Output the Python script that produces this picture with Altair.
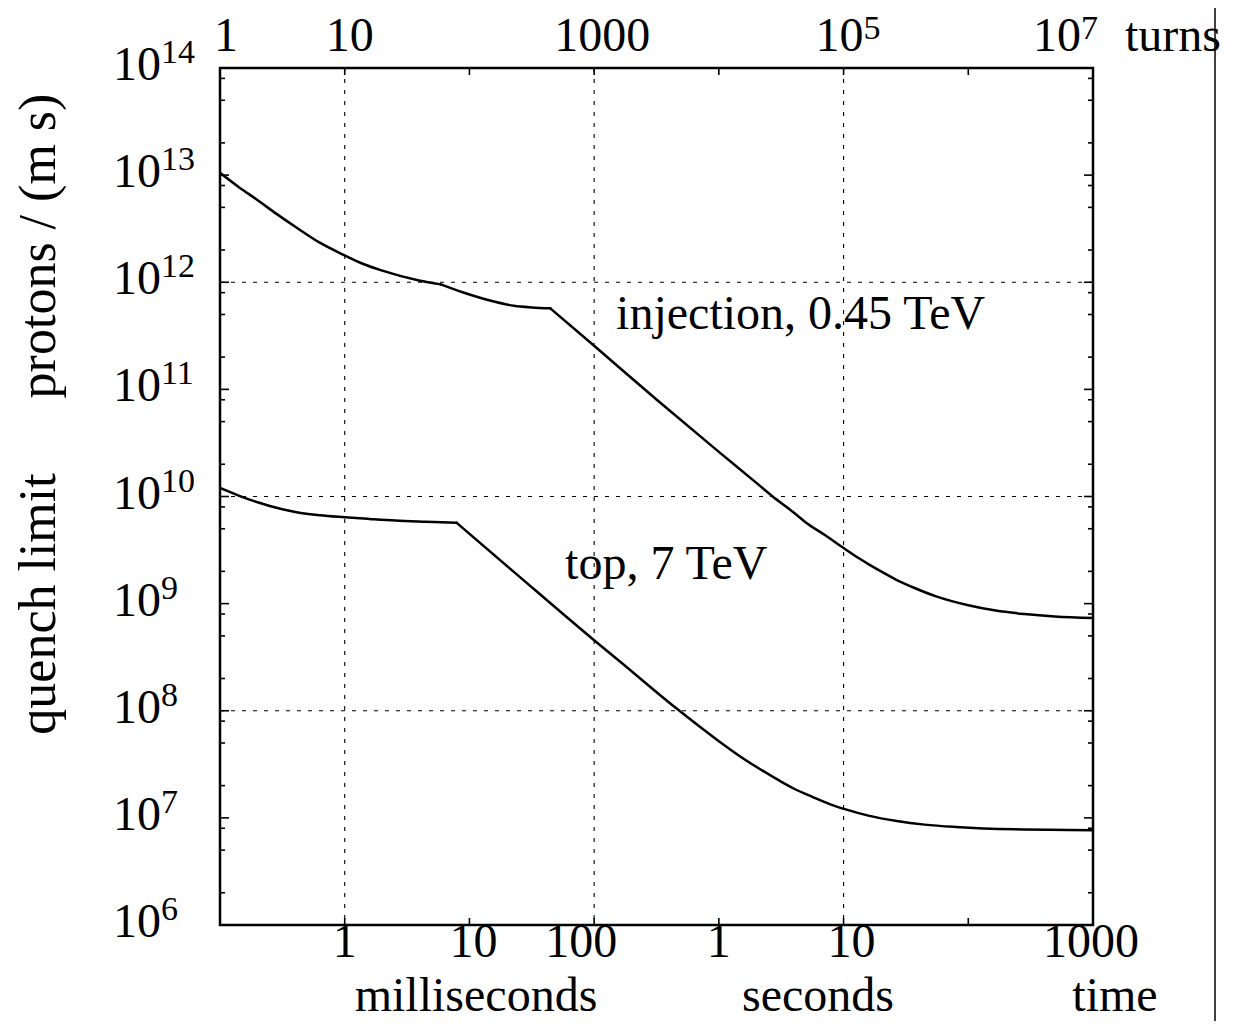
import altair as alt
import pandas as pd

FONT = "Liberation Serif"
W, H = 873, 857

# ---- data (time in milliseconds, protons / (m s)) ----
inj_t = [0.1, 0.141, 0.198, 0.282, 0.41, 0.631, 1.0, 1.41, 1.97, 3.94, 5.89, 8.81,
         15.7, 22.7, 31.6, 44.5, 100, 316, 1000, 2000, 2670, 3980, 5010, 7080, 10400,
         12600, 15800, 20000, 26700, 35500, 55200, 100000, 166000, 282000, 494000,
         1000000]
inj_q = [1.05e13, 7.76e12, 5.89e12, 4.37e12, 3.24e12, 2.34e12, 1.78e12, 1.48e12,
         1.29e12, 1.04e12, 9.55e11, 8.07e11, 6.61e11, 6.03e11, 5.82e11, 5.71e11,
         2.55e11, 8.04e10, 2.61e10, 1.34e10, 1.01e10, 7.09e9, 5.69e9, 4.37e9, 3.20e9,
         2.75e9, 2.34e9, 2.00e9, 1.66e9, 1.43e9, 1.17e9, 9.66e8, 8.61e8, 8.00e8,
         7.59e8, 7.33e8]
inj_kinks = [5.89, 44.5]

top_t = [0.1, 0.141, 0.2, 0.316, 0.41, 0.631, 1.0, 1.58, 2.55, 4.47, 7.9, 22.7,
         100, 161, 448, 1000, 1580, 2240, 2990, 3980, 5620, 7940, 10400, 15800,
         26700, 44700, 79800, 237000, 1000000]
top_q = [1.20e10, 1.02e10, 8.83e9, 7.59e9, 7.13e9, 6.68e9, 6.40e9, 6.17e9, 5.96e9,
         5.81e9, 5.68e9, 1.98e9, 4.55e8, 2.88e8, 1.07e8, 5.20e7, 3.56e7, 2.76e7,
         2.26e7, 1.88e7, 1.57e7, 1.33e7, 1.20e7, 1.05e7, 9.35e6, 8.65e6, 8.22e6,
         7.82e6, 7.68e6]
top_kinks = [7.9]

# axes
y_major = [1e6, 1e7, 1e8, 1e9, 1e10, 1e11, 1e12, 1e13, 1e14]
y_exp = ["6", "7", "8", "9", "10", "11", "12", "13", "14"]
y_minor = [m * 10.0 ** e for e in range(6, 14) for m in (2, 5, 8)]
y_grid = [1e8, 1e10, 1e12]

x_ticks = [0.1, 1, 10, 100, 1000, 1e4, 1e5, 1e6]
x_grid = [1, 100, 1e4]

bot_vals = [1, 10, 100, 1000, 1e4, 1e6]
bot_text = ["1", "10", "100", "1", "10", "1000"]
bot_dx = [0, 4, -13, 0, 8, -2]

top_vals = [0.1, 1, 100, 1e4, 1e6]
top_base = ["1", "10", "1000", "10", "10"]
top_exp = ["", "", "", "5", "7"]
top_dx = [-6, -19, -40, -28, -60]

labels = [("injection, 0.45 TeV", 150, 3.7e11), ("top, 7 TeV", 58.5, 1.71e9)]

xs = alt.Scale(type="log", domain=[0.1, 1e6], nice=False)
ys = alt.Scale(type="log", domain=[1e6, 1e14], nice=False)


def X():
    return alt.X("t:Q", scale=xs, axis=None)


def Y():
    return alt.Y("q:Q", scale=ys, axis=None)


def pieces(name, ts, qs, kinks):
    """split a curve at its kinks so each smooth piece is drawn on its own"""
    rows = []
    bounds = [ts[0]] + kinks + [ts[-1]]
    for k in range(len(bounds) - 1):
        lo, hi = bounds[k], bounds[k + 1]
        for t, q in zip(ts, qs):
            if lo <= t <= hi:
                rows.append({"t": t, "q": q, "s": f"{name}{k}"})
    return pd.DataFrame(rows)


layers = []

# grid lines
grid_style = dict(color="black", strokeWidth=1.1, strokeDash=[4, 7])
layers.append(alt.Chart(pd.DataFrame({"q": y_grid})).mark_rule(**grid_style).encode(y=Y()))
layers.append(alt.Chart(pd.DataFrame({"t": x_grid})).mark_rule(**grid_style).encode(x=X()))

# curves
df_c = pd.concat([
    pieces("injection", inj_t, inj_q, inj_kinks),
    pieces("top", top_t, top_q, top_kinks),
])
layers.append(
    alt.Chart(df_c).mark_line(color="black", strokeWidth=2.5, clip=True,
                              interpolate="monotone", strokeCap="round",
                              strokeJoin="round").encode(
        x=X(), y=Y(), detail="s:N", order="t:Q"
    )
)

# inward ticks
tick_style = dict(color="black", strokeWidth=1.6)
ym = alt.Chart(pd.DataFrame({"q": y_major})).mark_rule(**tick_style)
layers.append(ym.encode(y=Y(), x=alt.value(0), x2=alt.value(9)))
layers.append(ym.encode(y=Y(), x=alt.value(W - 9), x2=alt.value(W)))
yn = alt.Chart(pd.DataFrame({"q": y_minor})).mark_rule(**tick_style)
layers.append(yn.encode(y=Y(), x=alt.value(0), x2=alt.value(5)))
layers.append(yn.encode(y=Y(), x=alt.value(W - 5), x2=alt.value(W)))
xt = alt.Chart(pd.DataFrame({"t": x_ticks})).mark_rule(**tick_style)
layers.append(xt.encode(x=X(), y=alt.value(0), y2=alt.value(7)))
layers.append(xt.encode(x=X(), y=alt.value(H - 7), y2=alt.value(H)))

# y tick labels: 10 with superscript exponent
df_y = pd.DataFrame({"q": y_major, "e": y_exp})
layers.append(
    alt.Chart(df_y).mark_text(font=FONT, fontSize=48, align="left", baseline="alphabetic",
                              dy=12, color="black", text="10").encode(y=Y(), x=alt.value(-107))
)
layers.append(
    alt.Chart(df_y).mark_text(font=FONT, fontSize=34, align="left", baseline="alphabetic",
                              dy=-5, color="black").encode(y=Y(), x=alt.value(-59), text="e:N")
)

# bottom labels
for v, s, d in zip(bot_vals, bot_text, bot_dx):
    layers.append(
        alt.Chart(pd.DataFrame({"t": [v], "txt": [s]})).mark_text(
            font=FONT, fontSize=48, align="center", baseline="alphabetic", dx=d, color="black"
        ).encode(x=X(), y=alt.value(H + 32), text="txt:N")
    )

# top labels (turns)
for v, b, e, d in zip(top_vals, top_base, top_exp, top_dx):
    layers.append(
        alt.Chart(pd.DataFrame({"t": [v], "txt": [b]})).mark_text(
            font=FONT, fontSize=48, align="left", baseline="alphabetic", dx=d, color="black"
        ).encode(x=X(), y=alt.value(-17), text="txt:N")
    )
    if e:
        layers.append(
            alt.Chart(pd.DataFrame({"t": [v], "txt": [e]})).mark_text(
                font=FONT, fontSize=34, align="left", baseline="alphabetic", dx=d + 48,
                color="black"
            ).encode(x=X(), y=alt.value(-29), text="txt:N")
        )

# curve labels
for s, t, q in labels:
    layers.append(
        alt.Chart(pd.DataFrame({"t": [t], "q": [q], "txt": [s]})).mark_text(
            font=FONT, fontSize=48, align="left", baseline="alphabetic", color="black"
        ).encode(x=X(), y=Y(), text="txt:N")
    )

# axis titles
one = pd.DataFrame({"a": [0]})
titles = [
    ("turns", 905, -17, "left", 0, 48),
    ("milliseconds", 256, 943, "center", 0, 48),
    ("seconds", 598, 943, "center", 0, 48),
    ("time", 895, 943, "center", 0, 48),
    ("quench limit", -165, 536, "center", 270, 52),
    ("protons / (m s)", -165, 178, "center", 270, 52),
]
for s, px, py, al, ang, fs in titles:
    layers.append(
        alt.Chart(one).mark_text(
            font=FONT, fontSize=fs, align=al, baseline="alphabetic", angle=ang, color="black",
            text=s
        ).encode(x=alt.value(px), y=alt.value(py))
    )

# page frame line at right
layers.append(
    alt.Chart(one).mark_rule(color="black", strokeWidth=1.5).encode(
        x=alt.value(995), y=alt.value(-70), y2=alt.value(H + 100)
    )
)

chart = alt.layer(*layers).properties(
    width=W,
    height=H,
    autosize=alt.AutoSizeParams(type="none"),
    padding={"left": 212, "top": 60, "right": 130, "bottom": 96},
    background="white",
).configure_view(stroke="black", strokeWidth=2.5)

chart.save("out.html", embed_options={"renderer": "svg", "actions": False})
